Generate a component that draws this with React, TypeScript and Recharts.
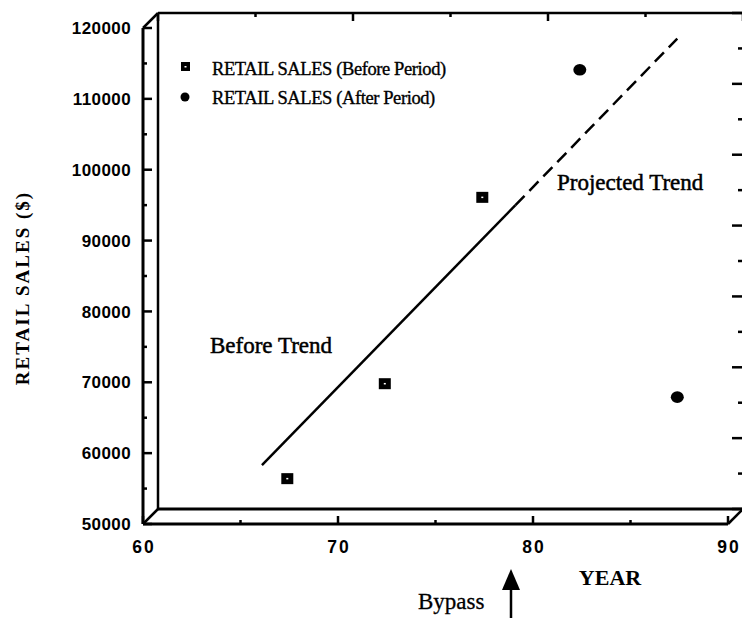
import React from 'react';
import { ComposedChart, Scatter, XAxis, YAxis, Customized } from 'recharts';

// ---- data ----
const beforeYears = [67.4, 72.4, 77.4];
const beforeSales = [56400, 69800, 96100];
const afterYears = [82.4, 87.4];
const afterSales = [114100, 67900];
const trendYears = [66.1, 79.1];
const trendSales = [58300, 95000];
const projectedYears = [79.1, 87.4];
const projectedSales = [95000, 118500];
const xTicks = [60, 65, 70, 75, 80, 85, 90];
const yTicks = [50000, 55000, 60000, 65000, 70000, 75000, 80000, 85000, 90000, 95000, 100000, 105000, 110000, 115000, 120000];
const legendLabels = ['RETAIL SALES (Before Period)', 'RETAIL SALES (After Period)'];

const beforeData = beforeYears.map((x, i) => ({ x, y: beforeSales[i] }));
const afterData = afterYears.map((x, i) => ({ x, y: afterSales[i] }));
const trendData = trendYears.map((x, i) => ({ x, y: trendSales[i] }));
const projectedData = projectedYears.map((x, i) => ({ x, y: projectedSales[i] }));

// ---- layout ----
const W = 742;
const H = 622;
const PL = 143;
const PR = 728;
const PT = 28;
const PB = 524;
const DX = 15;
const DY = -15;
const SERIF = '"Liberation Serif", "Times New Roman", serif';
const SANS = '"Liberation Sans", Arial, sans-serif';

const YTick = (props: any) => {
  const { y, payload } = props;
  const v = payload.value;
  const major = v % 10000 === 0;
  return (
    <g>
      <line x1={PL} x2={PL + (major ? 9 : 4)} y1={y} y2={y} stroke="#000" strokeWidth={2.5} />
      <line x1={PR + DX - (major ? 11 : 5)} x2={PR + DX} y1={y + DY} y2={y + DY} stroke="#000" strokeWidth={2.5} />
      {major && (
        <text x={131} y={y} dy="0.36em" textAnchor="end" fontFamily={SANS} fontSize={17} fontWeight="bold" letterSpacing={0.4} fill="#000">
          {v}
        </text>
      )}
    </g>
  );
};

const XTick = (props: any) => {
  const { x, payload } = props;
  const v = payload.value;
  const major = v % 10 === 0;
  return (
    <g>
      <line x1={x} x2={x} y1={PB} y2={PB - (major ? 8 : 4)} stroke="#000" strokeWidth={2.5} />
      <line x1={x + DX} x2={x + DX} y1={PT + DY} y2={PT + DY + (major ? 8 : 4)} stroke="#000" strokeWidth={2.5} />
      {major && (
        <text x={x + 1} y={553} textAnchor="middle" fontFamily={SANS} fontSize={17.5} fontWeight="bold" letterSpacing={2} fill="#000">
          {v}
        </text>
      )}
    </g>
  );
};

const SquareMark = (props: any) => {
  const { cx, cy } = props;
  return (
    <g>
      <rect x={cx - 6} y={cy - 5.5} width={12} height={11} fill="#000" />
      <rect x={cx - 1} y={cy - 0.75} width={2} height={1.5} fill="#fff" />
    </g>
  );
};

const CircleMark = (props: any) => {
  const { cx, cy } = props;
  return <ellipse cx={cx} cy={cy} rx={6.5} ry={5.8} fill="#000" />;
};

const NoMark = () => <g />;

const Frame = () => {
  const s = { stroke: '#000', strokeWidth: 3, fill: 'none' } as const;
  return (
    <g>
      {/* back plane */}
      <line x1={PL + DX} y1={PT + DY} x2={PR + DX} y2={PT + DY} {...s} strokeWidth={2.5} />
      <line x1={PL + DX} y1={PT + DY} x2={PL + DX} y2={PB + DY} {...s} strokeWidth={2.5} />
      <line x1={PL + DX} y1={PB + DY} x2={PR + DX} y2={PB + DY} {...s} />
      {/* front axes */}
      <line x1={PL} y1={PT} x2={PL} y2={PB} {...s} />
      <line x1={PL} y1={PB} x2={PR} y2={PB} {...s} />
      {/* depth edges */}
      <line x1={PL} y1={PT} x2={PL + DX} y2={PT + DY} {...s} strokeWidth={2.5} />
      <line x1={PL} y1={PB} x2={PL + DX} y2={PB + DY} {...s} strokeWidth={2.5} />
      <line x1={PR} y1={PB} x2={PR + DX} y2={PB + DY} {...s} strokeWidth={2.5} />
    </g>
  );
};

const Annotations = () => (
  <g>
    {/* legend */}
    <rect x={181} y={62} width={9} height={9} fill="#000" />
    <rect x={184.5} y={66} width={2} height={1.5} fill="#fff" />
    <text x={212} y={75} fontFamily={SERIF} fontSize={18.5} letterSpacing={-0.4} fill="#000" stroke="#000" strokeWidth={0.35}>{legendLabels[0]}</text>
    <circle cx={185} cy={97} r={4.5} fill="#000" />
    <text x={212} y={104} fontFamily={SERIF} fontSize={18.5} letterSpacing={-0.4} fill="#000" stroke="#000" strokeWidth={0.35}>{legendLabels[1]}</text>

    <text x={210} y={353} fontFamily={SERIF} fontSize={23} fill="#000" stroke="#000" strokeWidth={0.5}>Before Trend</text>
    <text x={557} y={190} fontFamily={SERIF} fontSize={23} fill="#000" stroke="#000" strokeWidth={0.5}>Projected Trend</text>

    <text
      transform="translate(29, 288) rotate(-90)"
      textAnchor="middle"
      fontFamily={SERIF}
      fontSize={19}
      fontWeight="bold"
      letterSpacing={2}
      fill="#000"
    >
      RETAIL SALES ($)
    </text>
    <text x={610} y={585} textAnchor="middle" fontFamily={SERIF} fontSize={22} fontWeight="bold" fill="#000">YEAR</text>
    <text x={418} y={609} fontFamily={SERIF} fontSize={23} fill="#000" stroke="#000" strokeWidth={0.3}>Bypass</text>
    <line x1={511} y1={586} x2={511} y2={618} stroke="#000" strokeWidth={2.5} />
    <polygon points="511,569 502,590 520,590" fill="#000" />
  </g>
);

export default function App() {
  return (
    <div style={{ position: 'absolute', left: 0, top: 0, width: W, height: H, background: '#fff' }}>
      <ComposedChart width={W} height={H} margin={{ top: PT, right: W - PR, bottom: 0, left: 0 }}>
        <XAxis
          type="number"
          dataKey="x"
          domain={[60, 90]}
          ticks={xTicks}
          interval={0}
          height={H - PB}
          axisLine={false}
          tickLine={false}
          tick={<XTick />}
          allowDataOverflow
        />
        <YAxis
          type="number"
          dataKey="y"
          domain={[50000, 120000]}
          ticks={yTicks}
          interval={0}
          width={PL}
          axisLine={false}
          tickLine={false}
          tick={<YTick />}
          allowDataOverflow
        />
        <Customized component={<Frame />} />
        <Scatter data={trendData} line={{ stroke: '#000', strokeWidth: 2.5 }} shape={<NoMark />} isAnimationActive={false} />
        <Scatter data={projectedData} line={{ stroke: '#000', strokeWidth: 2.5, strokeDasharray: '13 7' }} shape={<NoMark />} isAnimationActive={false} />
        <Scatter data={beforeData} shape={<SquareMark />} isAnimationActive={false} />
        <Scatter data={afterData} shape={<CircleMark />} isAnimationActive={false} />
        <Customized component={<Annotations />} />
      </ComposedChart>
    </div>
  );
}
